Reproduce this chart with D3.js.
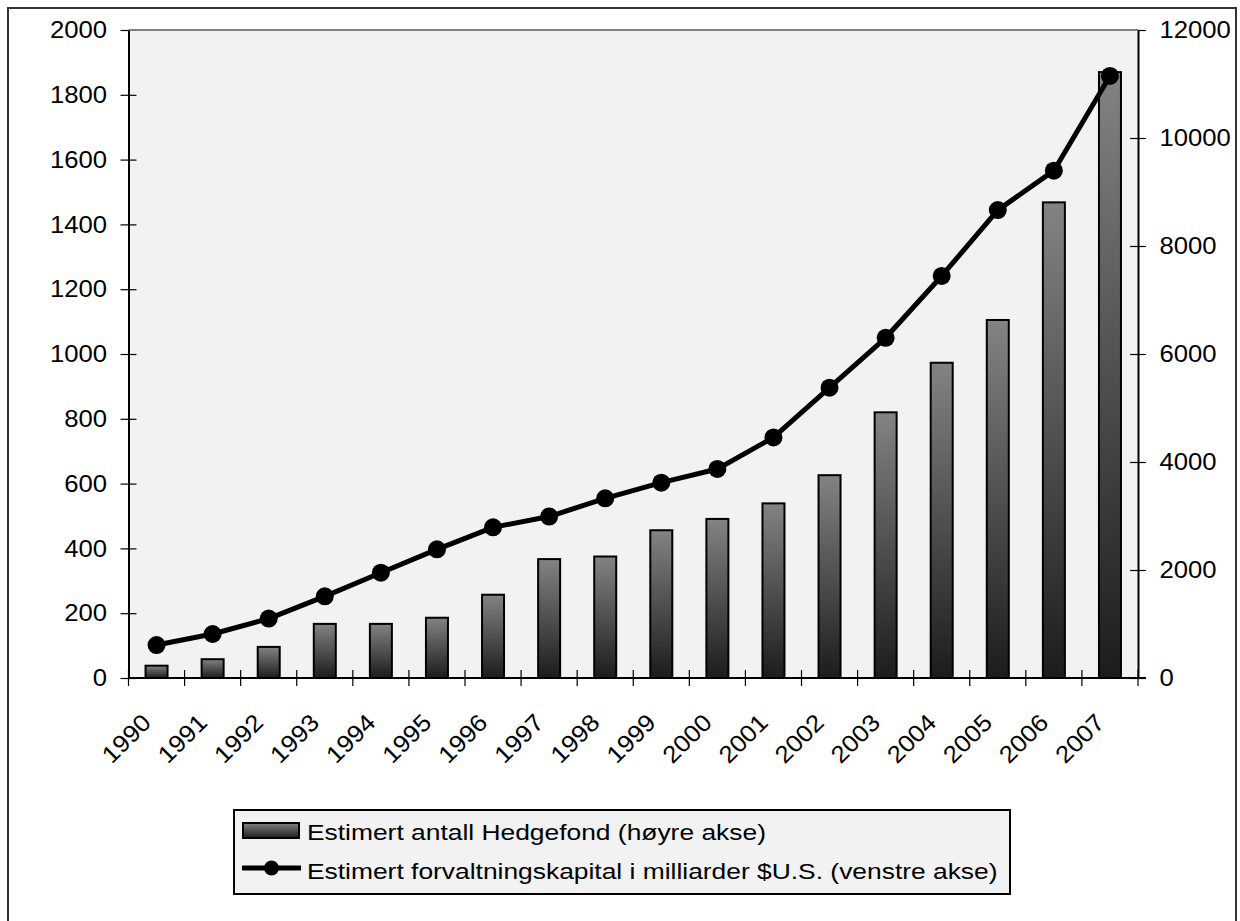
<!doctype html>
<html>
<head>
<meta charset="UTF-8">
<title>Hedgefond</title>
<script src="https://d3js.org/d3.v7.min.js"></script>
<style>
  body { margin: 0; background: #fff; }
  text { font-family: "Liberation Sans", Arial, sans-serif; fill: #000; }
</style>
</head>
<body>
<script>
// data
var years = ["1990","1991","1992","1993","1994","1995","1996","1997","1998",
             "1999","2000","2001","2002","2003","2004","2005","2006","2007"];
var barValues = [38, 58, 96, 167, 167, 186, 257, 367, 375,
                 456, 491, 539, 626, 820, 973, 1105, 1468, 1870];   // left axis
var lineValues = [610, 815, 1100, 1512, 1950, 2383, 2790, 2990, 3327,
                  3617, 3871, 4455, 5377, 6300, 7445, 8665, 9395, 11150]; // right axis
var leftTicks = [0, 200, 400, 600, 800, 1000, 1200, 1400, 1600, 1800, 2000];
var rightTicks = [0, 2000, 4000, 6000, 8000, 10000, 12000];
var legendLabels = ["Estimert antall Hedgefond (høyre akse)",
                    "Estimert forvaltningskapital i milliarder $U.S. (venstre akse)"];

var W = 1240, H = 921;
var plot = {left: 128.5, right: 1138, top: 30, bottom: 678};

var svg = d3.select("body").append("svg")
    .attr("width", W).attr("height", H);

var defs = svg.append("defs");
var grad = defs.append("linearGradient").attr("id", "barGrad")
    .attr("x1", 0).attr("y1", 0).attr("x2", 0).attr("y2", 1);
grad.append("stop").attr("offset", "0%").attr("stop-color", "#838383");
grad.append("stop").attr("offset", "100%").attr("stop-color", "#1c1c1c");

// outer frame (bottom edge runs off the picture)
svg.append("rect")
    .attr("x", 8).attr("y", 8).attr("width", 1228).attr("height", 940)
    .attr("fill", "#fff").attr("stroke", "#333").attr("stroke-width", 2);

// plot area
svg.append("rect")
    .attr("x", plot.left).attr("y", plot.top)
    .attr("width", plot.right - plot.left).attr("height", plot.bottom - plot.top)
    .attr("fill", "#f2f2f2");
svg.append("line")
    .attr("x1", plot.left).attr("x2", plot.right)
    .attr("y1", plot.top).attr("y2", plot.top)
    .attr("stroke", "#808080").attr("stroke-width", 2);

var x = d3.scaleBand().domain(years).range([plot.left, plot.right]);
var yL = d3.scaleLinear().domain([0, 2000]).range([plot.bottom, plot.top]);
var yR = d3.scaleLinear().domain([0, 12000]).range([plot.bottom, plot.top]);

var barW = 22;

// bars
svg.append("g").selectAll("rect").data(barValues).enter().append("rect")
    .attr("x", function(d, i){ return x(years[i]) + x.bandwidth()/2 - barW/2; })
    .attr("y", function(d){ return yL(d); })
    .attr("width", barW)
    .attr("height", function(d){ return yL(0) - yL(d); })
    .attr("fill", "url(#barGrad)")
    .attr("stroke", "#000").attr("stroke-width", 2);

// left axis
var leftAxis = d3.axisLeft(yL).tickValues(leftTicks).tickFormat(d3.format("d"))
    .tickSizeInner(8).tickSizeOuter(0).tickPadding(12);
var gl = svg.append("g").attr("transform", "translate(" + plot.left + ",0)").call(leftAxis);
gl.selectAll(".tick line").attr("x2", -8).attr("x1", 8);
gl.selectAll(".tick line").filter(function(d){ return d === 2000; }).attr("x1", 0);

// right axis
var rightAxis = d3.axisRight(yR).tickValues(rightTicks).tickFormat(d3.format("d"))
    .tickSizeInner(8).tickSizeOuter(0).tickPadding(12);
var gr = svg.append("g").attr("transform", "translate(" + plot.right + ",0)").call(rightAxis);
gr.selectAll(".tick line").attr("x1", -8).attr("x2", 8);
gr.selectAll(".tick line").filter(function(d){ return d === 12000; }).attr("x1", 0);

[gl, gr].forEach(function(g){
    g.attr("font-size", null).attr("font-family", null);
    g.select(".domain").attr("stroke", "#000").attr("stroke-width", 2);
    g.selectAll(".tick line").attr("stroke", "#000").attr("stroke-width", 1.2);
    g.selectAll(".tick text")
        .attr("font-size", 24)
        .attr("fill", "#000")
        .attr("transform", "scale(1.07,1)");
});

// bottom axis with ticks between categories
var bounds = years.map(function(y){ return x(y); }).concat([plot.right]);
var gb = svg.append("g");
gb.append("line")
    .attr("x1", plot.left).attr("x2", plot.right + 8)
    .attr("y1", plot.bottom).attr("y2", plot.bottom)
    .attr("stroke", "#000").attr("stroke-width", 2);
gb.selectAll("line.tk").data(bounds).enter().append("line").attr("class", "tk")
    .attr("x1", function(d){ return d; }).attr("x2", function(d){ return d; })
    .attr("y1", plot.bottom - 8).attr("y2", plot.bottom + 8)
    .attr("stroke", "#000").attr("stroke-width", 1.2);
gb.selectAll("text").data(years).enter().append("text")
    .attr("transform", function(d){
        return "translate(" + (x(d) + x.bandwidth()/2 - 4) + "," + 724 + ") rotate(-45) scale(1.08,1)";
    })
    .attr("text-anchor", "end")
    .attr("font-size", 24)
    .text(function(d){ return d; });

// line series
var line = d3.line()
    .x(function(d, i){ return x(years[i]) + x.bandwidth()/2; })
    .y(function(d){ return yR(d); });
svg.append("path").datum(lineValues)
    .attr("d", line).attr("fill", "none")
    .attr("stroke", "#000").attr("stroke-width", 5).attr("stroke-linejoin", "round");
svg.append("g").selectAll("circle").data(lineValues).enter().append("circle")
    .attr("cx", function(d, i){ return x(years[i]) + x.bandwidth()/2; })
    .attr("cy", function(d){ return yR(d); })
    .attr("r", 9).attr("fill", "#000");

// legend
var lg = svg.append("g");
lg.append("rect")
    .attr("x", 234).attr("y", 810).attr("width", 776).attr("height", 84)
    .attr("fill", "#f2f2f2").attr("stroke", "#000").attr("stroke-width", 2);
lg.append("rect")
    .attr("x", 243).attr("y", 823).attr("width", 56).attr("height", 15)
    .attr("fill", "url(#barGrad)").attr("stroke", "#000").attr("stroke-width", 2);
lg.append("line")
    .attr("x1", 242).attr("x2", 301).attr("y1", 868).attr("y2", 868)
    .attr("stroke", "#000").attr("stroke-width", 5);
lg.append("circle").attr("cx", 271.5).attr("cy", 868).attr("r", 7.5).attr("fill", "#000");
lg.selectAll("text").data(legendLabels).enter().append("text")
    .attr("transform", function(d, i){
        return "translate(307," + (840 + i * 39) + ") scale(1.2,1)";
    })
    .attr("font-size", 22)
    .text(function(d){ return d; });
</script>
</body>
</html>
